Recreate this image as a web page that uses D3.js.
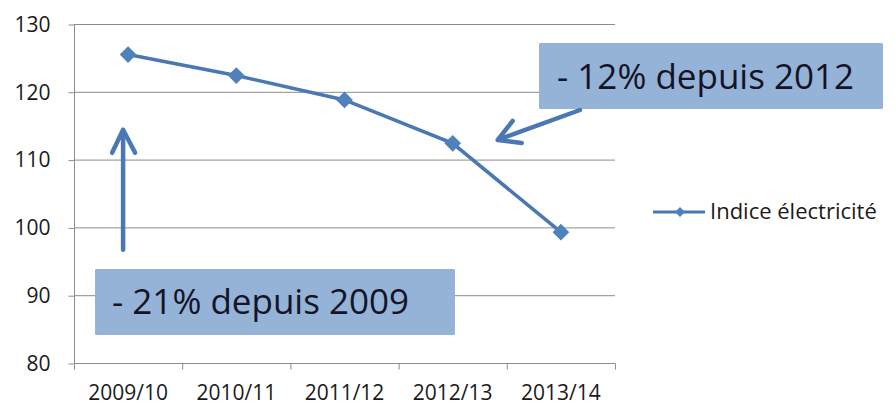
<!DOCTYPE html>
<meta charset="utf-8">
<head>
<style>
body{ margin:0; background:#fff; }
text{ font-family:"Open Sans", sans-serif; fill:#1a1a1a; }
.grid line{ stroke:#8c8c8c; stroke-width:1px; }
.axis path, .axis line{ stroke:#8c8c8c; }
.axis text{ font-size:21px; }
.note rect{ fill:#95B3D7; }
.note text{ font-size:35px; fill:#141428; }
.arrow{ fill:none; stroke:#4A78B4; stroke-width:4.5px; stroke-linecap:round; stroke-linejoin:round; }
</style>
</head>
<body>
<script src="https://d3js.org/d3.v7.min.js"></script>
<script>

var categories=["2009/10","2010/11","2011/12","2012/13","2013/14"];
var values=[125.5,122.4,118.8,112.4,99.3];
var yTicks=[80,90,100,110,120,130];
var seriesName="Indice électricité";
var notes=["- 12% depuis 2012","- 21% depuis 2009"];

var svg=d3.select("body").append("svg").attr("width",895).attr("height",405);

var x=d3.scaleBand().domain(categories).range([74,615]);
var y=d3.scaleLinear().domain([80,130]).range([363,24]);

// grid
svg.append("g").attr("class","grid")
	.selectAll("line").data(yTicks.slice(1)).enter().append("line")
	.attr("x1",74).attr("x2",615)
	.attr("y1",d=>y(d)+0.5).attr("y2",d=>y(d)+0.5);

// y axis
var yAxis=svg.append("g").attr("class","axis").attr("transform","translate(74.5,0.5)")
	.call(d3.axisLeft(y).tickValues(yTicks).tickSize(6).tickPadding(18).tickSizeOuter(0));
yAxis.select(".domain").attr("d","M0,"+y(130)+"V"+y(80));
yAxis.selectAll("text").attr("fill","#1a1a1a");

// x axis, ticks at band edges
var xAxis=svg.append("g").attr("class","axis").attr("transform","translate(0,"+(y(80)+0.5)+")");
xAxis.append("line").attr("x1",74).attr("x2",615);
xAxis.selectAll(".edge").data(d3.range(categories.length+1)).enter().append("line")
	.attr("class","edge")
	.attr("x1",i=>74+i*x.bandwidth()+0.5).attr("x2",i=>74+i*x.bandwidth()+0.5)
	.attr("y1",0).attr("y2",6);
xAxis.selectAll(".lbl").data(categories).enter().append("text")
	.attr("class","lbl")
	.attr("x",d=>x(d)+x.bandwidth()/2)
	.attr("y",36)
	.attr("text-anchor","middle")
	.text(d=>d);

// series
var pts=categories.map((c,i)=>[x(c)+x.bandwidth()/2,y(values[i])]);
svg.append("path").attr("d",d3.line()(pts))
	.attr("fill","none").attr("stroke","#4A78B2").attr("stroke-width",3.6);
svg.selectAll(".pt").data(pts).enter().append("path")
	.attr("class","pt")
	.attr("d",d3.symbol().type(d3.symbolSquare).size(140))
	.attr("transform",d=>"translate("+d[0]+","+d[1]+") rotate(45)")
	.attr("fill","#4F81BD");

// legend
var lg=svg.append("g").attr("transform","translate(653,212)");
lg.append("line").attr("x1",0).attr("x2",52).attr("stroke","#4A78B2").attr("stroke-width",3.2);
lg.append("path").attr("d",d3.symbol().type(d3.symbolSquare).size(50)).attr("transform","translate(27,0) rotate(45)").attr("fill","#4F81BD");
lg.append("text").attr("x",57).attr("y",7).style("font-size","22px").text(seriesName);

// annotation boxes
var c0=x(categories[0])+x.bandwidth()/2, c3=x(categories[3])+x.bandwidth()/2;
var n1=svg.append("g").attr("class","note");
n1.append("rect").attr("x",539).attr("y",43).attr("width",344).attr("height",66).attr("rx",1.5);
n1.append("text").attr("x",557).attr("y",89).text(notes[0]);

var n2=svg.append("g").attr("class","note");
n2.append("rect").attr("x",95).attr("y",269).attr("width",360).attr("height",66).attr("rx",1.5);
n2.append("text").attr("x",112).attr("y",314).text(notes[1]);

// arrows
var ax=c0-5;
svg.append("path").attr("class","arrow")
	.attr("d","M"+ax+","+y(96.7)+"V"+y(114.4)+"M"+(ax-11)+","+y(111.0)+"L"+ax+","+y(114.4)+"L"+(ax+12)+","+y(111.0));
var tip=[c3+45,y(112.9)], tail=[580,110];
svg.append("path").attr("class","arrow")
	.attr("d","M"+tail[0]+","+tail[1]+"L"+tip[0]+","+tip[1]+"M"+(tip[0]+15)+","+(tip[1]-19)+"L"+tip[0]+","+tip[1]+"L"+(tip[0]+24)+","+(tip[1]+3));

</script>
</body>
</html>
